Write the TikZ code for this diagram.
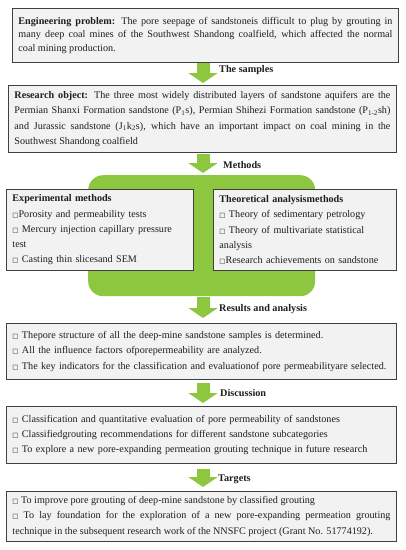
\documentclass[tikz,border=0pt]{standalone}
\usepackage{fontspec}
\setmainfont{Liberation Serif}
\newfontfamily\dvfont{DejaVu Sans}
\usetikzlibrary{arrows.meta}
\definecolor{boxfill}{HTML}{F2F2F2}
\definecolor{boxline}{HTML}{404040}
\definecolor{leaf}{RGB}{141,198,63}
\definecolor{txt}{HTML}{1E1E1E}
\newcommand{\sqb}{{\dvfont\fontsize{6.5}{6.5}\selectfont □}}
\tikzset{
  infobox/.style={draw=boxline, line width=0.9pt, fill=boxfill, anchor=north west,
    inner xsep=6pt, inner ysep=0pt, text=txt, font=\fontsize{10.15}{15.3}\selectfont},
  greenpanel/.style={fill=leaf, draw=none, rounded corners=15pt, anchor=north west, inner sep=0pt},
  blockarrow/.style={leaf, line width=13pt, -{Triangle[width=29pt,length=10pt]}},
  steplabel/.style={anchor=west, font=\fontsize{10.2}{12}\selectfont\bfseries, text=txt, inner sep=0pt}
}
\begin{document}
\begin{tikzpicture}[x=1pt,y=-1pt]
\useasboundingbox (0,0) rectangle (406,550);
\fill[white] (0,0) rectangle (406,550);

% box 1
\node[infobox, minimum width=386pt, minimum height=54pt, text width=374pt, align=justify,
  font=\fontsize{10.15}{13.5}\selectfont] (prob) at (12,8)
  {\textbf{Engineering problem:} The pore seepage of sandstoneis difficult to plug by grouting in\linebreak
   many deep coal mines of the Southwest Shandong coalfield, which affected the normal\linebreak
   coal mining production.};

% box 2
\node[infobox, minimum width=388pt, minimum height=67pt, text width=376pt, align=justify] (obj) at (8,85)
  {\textbf{Research object:} The three most widely distributed layers of sandstone aquifers are the\linebreak
   Permian Shanxi Formation sandstone (P\textsubscript{1}s), Permian Shihezi Formation sandstone (P\textsubscript{1-2}sh)\linebreak
   and Jurassic sandstone (J\textsubscript{1}k\textsubscript{2}s), which have an important impact on coal mining in the\linebreak
   Southwest Shandong coalfield};

% green panel behind methods
\node[greenpanel, minimum width=227pt, minimum height=121pt] (meth) at (88,175) {};

\node[infobox, minimum width=187pt, minimum height=81pt, text width=175pt, align=left] (exp) at (6,189)
  {\textbf{Experimental methods}\\
   \sqb Porosity and permeability tests\\
   \sqb{} Mercury injection capillary pressure\\
   test\\
   \sqb{} Casting thin slicesand SEM};

\node[infobox, minimum width=183pt, minimum height=81pt, text width=171pt, align=left] (theo) at (213,189)
  {\textbf{Theoretical analysismethods}\\
   \sqb{} Theory of sedimentary petrology\\
   \sqb{} Theory of multivariate statistical\\
   analysis\\
   \sqb Research achievements on sandstone};

% box 4
\node[infobox, minimum width=390pt, minimum height=56pt, text width=378pt, align=left] (res) at (6,323)
  {\sqb{} Thepore structure of all the deep-mine sandstone samples is determined.\\
   \sqb{} All the influence factors ofporepermeability are analyzed.\\
   \sqb{} The key indicators for the classification and evaluationof pore permeabilityare selected.};

% box 5
\node[infobox, minimum width=390pt, minimum height=57pt, text width=378pt, align=left] (disc) at (6,406)
  {\sqb{} Classification and quantitative evaluation of pore permeability of sandstones\\
   \sqb{} Classifiedgrouting recommendations for different sandstone subcategories\\
   \sqb{} To explore a new pore-expanding permeation grouting technique in future research};

% box 6
\node[infobox, minimum width=390pt, minimum height=50pt, text width=378pt, align=justify] (targ) at (6,491)
  {\sqb{} To improve pore grouting of deep-mine sandstone by classified grouting\\
   \sqb{} To lay foundation for the exploration of a new pore-expanding permeation grouting\linebreak
   technique in the subsequent research work of the NNSFC project (Grant No. 51774192).};

% arrows
\coordinate (ax) at (203,0);
\draw[blockarrow, shorten >=2pt] (prob.south -| ax) -- (obj.north -| ax);
\draw[blockarrow, shorten <=1pt, shorten >=2pt] (obj.south -| ax) -- (meth.north -| ax);
\draw[blockarrow, shorten <=1pt, shorten >=5pt] (meth.south -| ax) -- (res.north -| ax);
\draw[blockarrow, shorten <=3pt, shorten >=3pt] (res.south -| ax) -- (disc.north -| ax);
\draw[blockarrow, shorten <=5pt, shorten >=4pt] (disc.south -| ax) -- (targ.north -| ax);

% labels
\node[steplabel] (l1) at (219,70) {The samples};
\node[steplabel] (l2) at (223,165) {Methods};
\node[steplabel] (l3) at (219,309) {Results and analysis};
\node[steplabel] (l4) at (220,393) {Discussion};
\node[steplabel] (l5) at (218,479) {Targets};
\end{tikzpicture}
\end{document}
